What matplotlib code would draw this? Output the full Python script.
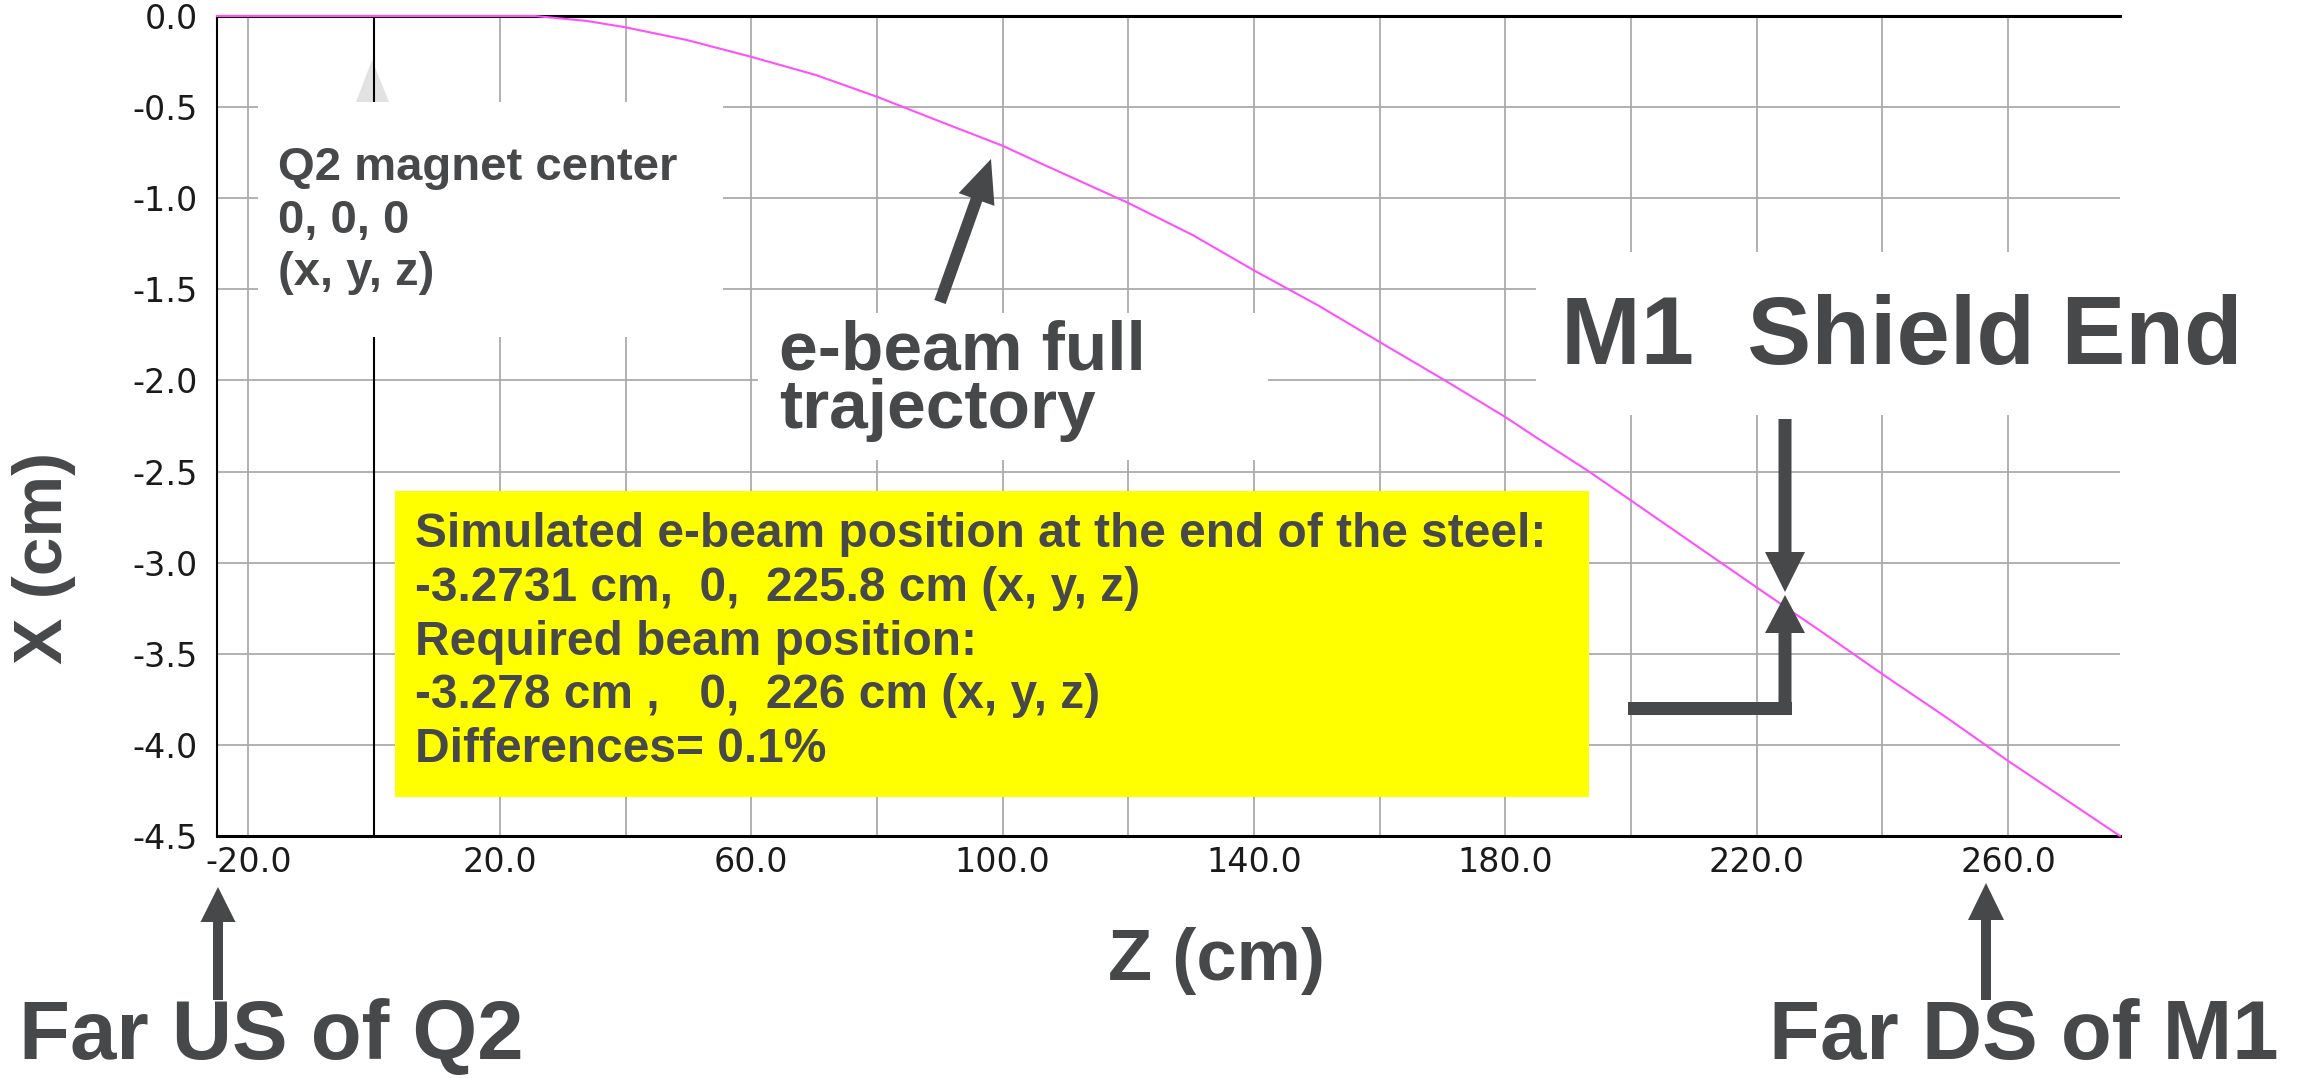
import matplotlib
matplotlib.use("Agg")
import matplotlib.pyplot as plt
from matplotlib.patches import Rectangle, Polygon
import numpy as np

plt.rcParams["font.family"] = ["Liberation Sans", "DejaVu Sans"]

# simulated e-beam trajectory: z along the beam line, x horizontal offset
z_cm = [-25.0, 0.0, 25.6, 33.8, 40.0, 49.8, 60.0, 70.3, 80.0, 90.2, 100.0,
        105.9, 120.0, 130.3, 140.0, 150.2, 160.0, 170.4, 180.0, 185.5, 193.1,
        200.0, 220.0, 225.8, 230.1, 240.0, 250.2, 260.0, 277.8]
x_cm = [0.0, 0.0, 0.0, -0.027, -0.062, -0.132, -0.224, -0.324, -0.443, -0.581,
        -0.712, -0.806, -1.026, -1.203, -1.396, -1.588, -1.789, -2.0, -2.201,
        -2.326, -2.495, -2.659, -3.136, -3.2731, -3.374, -3.612, -3.85, -4.088,
        -4.5]

z_ticks = [-20, 20, 60, 100, 140, 180, 220, 260]
z_minor = [0, 40, 80, 120, 160, 200, 240]
x_ticks = [0.0, -0.5, -1.0, -1.5, -2.0, -2.5, -3.0, -3.5, -4.0, -4.5]

q2_lines = ["Q2 magnet center", "0, 0, 0", "(x, y, z)"]
beam_lines = ["e-beam full", "trajectory"]
result_lines = [
    "Simulated e-beam position at the end of the steel:",
    "-3.2731 cm,  0,  225.8 cm (x, y, z)",
    "Required beam position:",
    "-3.278 cm ,   0,  226 cm (x, y, z)",
    "Differences= 0.1%",
]

W, H = 2300, 1078
GRAY = "#47484a"
MAGENTA = "#ff50ff"


def block_arrow(ax, tail, tip, shaft_w, head_w, head_len, color=GRAY):
    """Filled arrow polygon in pixel units of the overlay axes."""
    tail = np.asarray(tail, float)
    tip = np.asarray(tip, float)
    d = tip - tail
    u = d / np.hypot(*d)
    n = np.array([-u[1], u[0]])
    neck = tip - u * head_len
    pts = [tail + n * shaft_w / 2, neck + n * shaft_w / 2, neck + n * head_w / 2,
           tip, neck - n * head_w / 2, neck - n * shaft_w / 2, tail - n * shaft_w / 2]
    ax.add_patch(Polygon(pts, closed=True, fc=color, ec="none", zorder=5))


fig = plt.figure(figsize=(W / 100, H / 100), dpi=100)
ax = fig.add_axes([217 / W, 1 - 836 / H, (2120 - 217) / W, (836 - 16) / H])

ax.plot(z_cm, x_cm, color=MAGENTA, lw=1.5, zorder=4, clip_on=False)
ax.axvline(0, color="black", lw=1.5, zorder=3)

ax.set_xlim(-25.0, 277.8)
ax.set_ylim(-4.5, 0.0)
ax.set_xticks(z_ticks)
ax.set_xticklabels([f"{v:.1f}" for v in z_ticks])
ax.set_xticks(z_minor, minor=True)
ax.set_yticks(x_ticks)
ax.set_yticklabels([f"{v:.1f}" for v in x_ticks])
ax.tick_params(which="both", length=0, labelsize=24, colors="#1a1a1a")
ax.tick_params(axis="x", pad=7)
ax.tick_params(axis="y", pad=14)
for lbl in ax.get_xticklabels() + ax.get_yticklabels():
    lbl.set_family("DejaVu Sans")
ax.grid(True, which="both", color="#ababab", lw=1.3)
ax.set_axisbelow(True)

ax.spines["right"].set_visible(False)
ax.spines["left"].set_linewidth(1.5)
ax.spines["bottom"].set_linewidth(2.2)
ax.spines["top"].set_linewidth(2.2)

# overlay in pixel coordinates for the callouts
ov = fig.add_axes([0, 0, 1, 1])
ov.set_xlim(0, W)
ov.set_ylim(H, 0)
ov.axis("off")
ov.patch.set_visible(False)

# faint marker at the top of the Q2 center line
ax.add_patch(Polygon([(372, 60), (356, 102), (389, 102)], closed=True,
                     fc="#e2e2e2", ec="none", transform=ov.transData,
                     clip_on=False, zorder=1))

# white backgrounds behind the labels
for x0, y0, w, h in [(258, 102, 465, 235), (758, 313, 510, 147), (1536, 252, 764, 163)]:
    ov.add_patch(Rectangle((x0, y0), w, h, fc="white", ec="none", zorder=1))
ov.add_patch(Rectangle((395, 491), 1194, 306, fc="#ffff00", ec="none", zorder=1))

bold = dict(color=GRAY, fontweight="bold", va="baseline", ha="left", zorder=6)

# multi-line blocks are anchored at the baseline of their last line
ov.text(278, 285, "\n".join(q2_lines), fontsize=34, linespacing=1.25, **bold)
ov.text(779, 428, "\n".join(beam_lines), fontsize=50, linespacing=0.89, **bold)
ov.text(1561, 364, "M1  Shield End", fontsize=69, **bold)
ov.text(415, 762, "\n".join(result_lines), fontsize=34.5, linespacing=1.247, **bold)

ov.text(19, 1059, "Far US of Q2", fontsize=60, **bold)
ov.text(1769, 1059, "Far DS of M1", fontsize=60, **bold)
ov.text(1108, 980, "Z (cm)", fontsize=52, **bold)
ov.text(44, 558, "X (cm)", fontsize=50, rotation=90, color=GRAY,
        fontweight="bold", ha="center", va="center")

# arrows
block_arrow(ov, (940, 302), (991, 159), 12, 38, 43)
block_arrow(ov, (1785, 419), (1785, 592), 13, 40, 40)
block_arrow(ov, (1785, 715), (1785, 595), 13, 40, 38)
ov.add_patch(Rectangle((1628, 702), 1792 - 1628, 13, fc=GRAY, ec="none", zorder=5))
block_arrow(ov, (218, 1000), (218, 887), 10, 35, 35)
block_arrow(ov, (1986, 1000), (1986, 883), 10, 36, 37)

fig.savefig("out.png", dpi=100)
